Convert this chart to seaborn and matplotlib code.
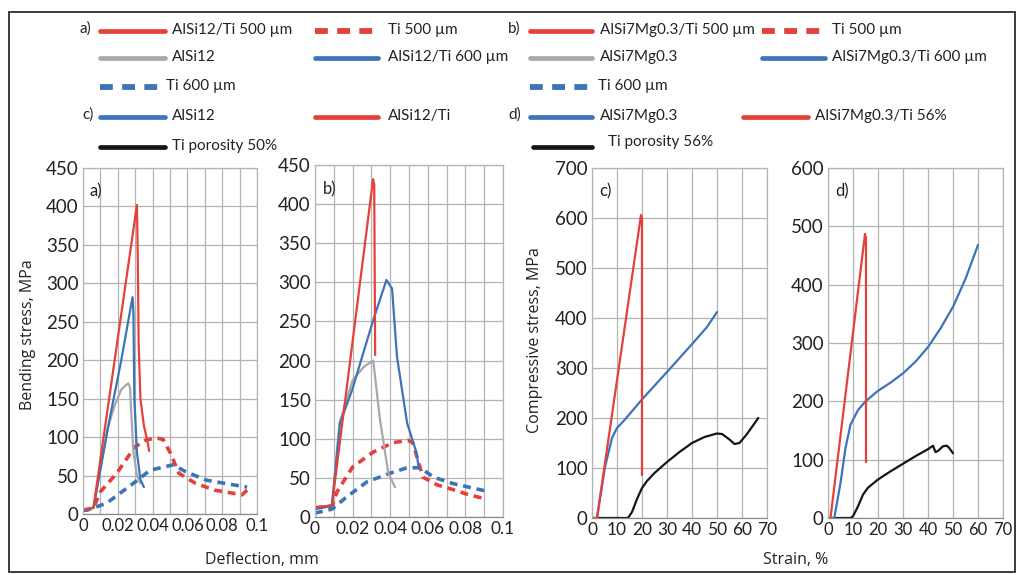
import numpy as np
import pandas as pd
import seaborn as sns
import matplotlib.pyplot as plt
from matplotlib.lines import Line2D
from matplotlib.patches import Rectangle
from matplotlib.ticker import MultipleLocator, FuncFormatter

# --- panel a) bending, AlSi12 (deflection mm / stress MPa)
a_red_x = [0, 0.006, 0.031, 0.0315, 0.032, 0.033, 0.035, 0.037, 0.038]
a_red_y = [5, 8, 402, 330, 220, 150, 115, 95, 82]
a_gray_x = [0, 0.006, 0.014, 0.018, 0.022, 0.026, 0.027, 0.028, 0.029, 0.031, 0.033]
a_gray_y = [5, 8, 110, 140, 162, 170, 165, 120, 80, 50, 40]
a_blue_x = [0, 0.006, 0.015, 0.022, 0.0275, 0.0285, 0.029, 0.0295, 0.031, 0.033, 0.035]
a_blue_y = [5, 8, 120, 200, 270, 282, 260, 150, 80, 45, 35]
a_red_d_x = [0, 0.006, 0.01, 0.0194, 0.0297, 0.036, 0.042, 0.046, 0.0503, 0.0551, 0.0646, 0.0757, 0.0914, 0.0943]
a_red_d_y = [5, 8, 29, 53, 87, 96, 99, 97, 79, 53, 40, 31, 25, 31]
a_blue_d_x = [0, 0.0024, 0.0135, 0.029, 0.0386, 0.0519, 0.059, 0.0709, 0.0862, 0.0943]
a_blue_d_y = [5, 5, 14, 40, 57, 64, 55, 44, 38, 35]

# --- panel b) bending, AlSi7Mg0.3
b_red_x = [0, 0.009, 0.0309, 0.0315, 0.032]
b_red_y = [12, 15, 432, 425, 207]
b_gray_x = [0, 0.009, 0.013, 0.02, 0.026, 0.031, 0.0335, 0.0346, 0.039, 0.0426]
b_gray_y = [11, 15, 120, 175, 192, 200, 146, 124, 56, 38]
b_blue_x = [0, 0.009, 0.0133, 0.0197, 0.031, 0.038, 0.041, 0.0436, 0.049, 0.054, 0.055]
b_blue_y = [10, 14, 120, 162, 252, 303, 292, 205, 120, 82, 66]
b_red_d_x = [0, 0.009, 0.0117, 0.02, 0.031, 0.0415, 0.0495, 0.052, 0.0574, 0.065, 0.0734, 0.0824, 0.0894]
b_red_d_y = [12, 14, 32, 64, 83, 95, 98, 95, 51, 41, 35, 28, 24]
b_blue_d_x = [0, 0.009, 0.017, 0.0277, 0.04, 0.049, 0.056, 0.063, 0.073, 0.084, 0.093]
b_blue_d_y = [5, 10, 26, 45, 56, 63, 63, 51, 43, 37, 32]

# --- panel c) compression, AlSi12 (strain % / stress MPa)
c_red_x = [0, 2, 19.6, 20, 20]
c_red_y = [0, 0, 606, 600, 86]
c_blue_x = [0, 2, 5.2, 8, 10, 13, 20.5, 30, 40.4, 46, 50]
c_blue_y = [0, 0, 102, 160, 180, 196, 240, 292, 350, 382, 412]
c_black_x = [0, 14.4, 16, 18, 20, 22, 25, 30, 35, 40, 45, 50, 52, 55, 57, 59, 62, 66.5]
c_black_y = [0, 0, 12, 38, 60, 74, 90, 112, 132, 150, 162, 169, 168, 157, 148, 150, 168, 200]

# --- panel d) compression, AlSi7Mg0.3
d_red_x = [0, 1, 14.8, 15.2, 15.2]
d_red_y = [0, 0, 487, 480, 96]
d_blue_x = [0, 2.5, 5, 7, 9, 12, 15, 20, 25, 30, 35, 40, 45, 50, 55, 60]
d_blue_y = [0, 0, 60, 120, 160, 185, 200, 218, 232, 248, 268, 293, 325, 362, 410, 468]
d_black_x = [0, 9, 10, 12, 14, 16, 20, 25, 30, 35, 40, 42, 43, 44, 46, 47.5, 48.5, 50]
d_black_y = [0, 0, 3, 20, 40, 52, 66, 80, 93, 106, 118, 124, 113, 115, 123, 124, 120, 111]

RED = "#e4413b"
BLUE = "#3d74b9"
GRAY = "#a8a8a8"
BLACK = "#161616"
DASH = (0, (2.2, 1.6))

sns.set_theme(style="whitegrid")
plt.rcParams["font.family"] = ["Lato", "DejaVu Sans"]

fig = plt.figure(figsize=(10.18, 5.75), dpi=100)


def px_axes(l, t, r, b):
    W, H = 1018, 575
    return fig.add_axes([l / W, 1 - b / H, (r - l) / W, (b - t) / H])


def draw(ax, x, y, color, dashed=False):
    if dashed:
        sns.lineplot(x=x, y=y, ax=ax, color=color, lw=2.6, linestyle=DASH,
                     estimator=None, sort=False)
    else:
        sns.lineplot(x=x, y=y, ax=ax, color=color, lw=1.6,
                     estimator=None, sort=False)


def style(ax, xmax, xmaj, xmin, ymax, ystep, tag, xsize):
    ax.set_xlim(0, xmax)
    ax.set_ylim(0, ymax)
    ax.xaxis.set_major_locator(MultipleLocator(xmaj))
    ax.xaxis.set_minor_locator(MultipleLocator(xmin))
    ax.yaxis.set_major_locator(MultipleLocator(ystep))
    ax.xaxis.set_major_formatter(FuncFormatter(lambda v, p: f"{v:g}"))
    ax.grid(which="both", color="#b4b4b4", lw=0.9)
    ax.set_facecolor("white")
    for s in ax.spines.values():
        s.set_color("#b4b4b4")
        s.set_linewidth(0.9)
    ax.spines["bottom"].set_color("#8c8c8c")
    ax.tick_params(length=0, pad=3, colors="#222222")
    ax.tick_params(axis="y", labelsize=13.5)
    ax.tick_params(axis="x", labelsize=xsize)
    ax.set_xlabel("")
    ax.set_ylabel("")
    ax.text(0.04, 0.955, tag, transform=ax.transAxes, fontsize=12,
            va="top", ha="left", color="#222222")


ax_a = px_axes(83, 168, 257, 514)
draw(ax_a, a_red_d_x, a_red_d_y, RED, True)
draw(ax_a, a_blue_d_x, a_blue_d_y, BLUE, True)
draw(ax_a, a_gray_x, a_gray_y, GRAY)
draw(ax_a, a_blue_x, a_blue_y, BLUE)
draw(ax_a, a_red_x, a_red_y, RED)
style(ax_a, 0.1, 0.02, 0.01, 450, 50, "a)", 12)

ax_b = px_axes(315, 165, 503, 517)
draw(ax_b, b_red_d_x, b_red_d_y, RED, True)
draw(ax_b, b_blue_d_x, b_blue_d_y, BLUE, True)
draw(ax_b, b_gray_x, b_gray_y, GRAY)
draw(ax_b, b_blue_x, b_blue_y, BLUE)
draw(ax_b, b_red_x, b_red_y, RED)
style(ax_b, 0.1, 0.02, 0.01, 450, 50, "b)", 12.5)

ax_c = px_axes(592, 168, 767, 518)
draw(ax_c, c_black_x, c_black_y, BLACK)
draw(ax_c, c_blue_x, c_blue_y, BLUE)
draw(ax_c, c_red_x, c_red_y, RED)
style(ax_c, 70, 10, 10, 700, 100, "c)", 12.5)

ax_d = px_axes(828, 168, 1003, 518)
draw(ax_d, d_black_x, d_black_y, BLACK)
draw(ax_d, d_blue_x, d_blue_y, BLUE)
draw(ax_d, d_red_x, d_red_y, RED)
style(ax_d, 70, 10, 10, 600, 100, "d)", 12)

# axis titles
lab = dict(fontsize=11.5, color="#222222", family=["Open Sans", "DejaVu Sans"])
fig.text(28 / 1018, 1 - 335 / 575, "Bending stress, MPa", rotation=90, ha="center", va="center", **lab)
fig.text(535 / 1018, 1 - 340 / 575, "Compressive stress, MPa", rotation=90, ha="center", va="center", **lab)
fig.text(262 / 1018, 1 - 560 / 575, "Deflection, mm", ha="center", va="center", **lab)
fig.text(796 / 1018, 1 - 560 / 575, "Strain, %", ha="center", va="center", **lab)

# legend block (drawn in pixel positions)
def key(x0, x1, y, color, dashed=False):
    yy = 1 - y / 575
    if dashed:
        ln = Line2D([x0 / 1018, x1 / 1018], [yy, yy], color=color, lw=4.2,
                    linestyle=(0, (2.2, 1.6)), transform=fig.transFigure)
    else:
        ln = Line2D([x0 / 1018, x1 / 1018], [yy, yy], color=color, lw=3.4,
                    transform=fig.transFigure)
    fig.add_artist(ln)


def ltext(x, y, s):
    fig.text(x / 1018, 1 - y / 575, s, fontsize=11, ha="left", va="center", color="#222222")


legend_rows = [
    ("a)", 80, 31, [(100, 165, 172, RED, False, "AlSi12/Ti 500 µm"), (315, 378, 388, RED, True, "Ti 500 µm")]),
    (None, 80, 58, [(100, 165, 172, GRAY, False, "AlSi12"), (315, 378, 388, BLUE, False, "AlSi12/Ti 600 µm")]),
    (None, 80, 87, [(100, 163, 166, BLUE, True, "Ti 600 µm")]),
    ("c)", 82, 117, [(100, 165, 172, BLUE, False, "AlSi12"), (315, 378, 388, RED, False, "AlSi12/Ti")]),
    (None, 80, 147, [(100, 165, 172, BLACK, False, "Ti porosity 50%")]),
    ("b)", 508, 31, [(530, 592, 600, RED, False, "AlSi7Mg0.3/Ti 500 µm"), (762, 825, 832, RED, True, "Ti 500 µm")]),
    (None, 508, 58, [(530, 592, 600, GRAY, False, "AlSi7Mg0.3"), (762, 825, 832, BLUE, False, "AlSi7Mg0.3/Ti 600 µm")]),
    (None, 508, 87, [(530, 592, 598, BLUE, True, "Ti 600 µm")]),
    ("d)", 508, 117, [(530, 592, 600, BLUE, False, "AlSi7Mg0.3"), (743, 808, 815, RED, False, "AlSi7Mg0.3/Ti 56%")]),
    (None, 508, 147, [(533, 592, 608, BLACK, False, "Ti porosity 56%")]),
]
for tag, tx, y, entries in legend_rows:
    if tag:
        ltext(tx, y - 2, tag)
    for x0, x1, xt, col, dsh, name in entries:
        key(x0, x1, y, col, dsh)
        ltext(xt, y - 1 if name != "Ti porosity 56%" else y - 5, name)

# outer frame
fig.add_artist(Rectangle((9 / 1018, 3 / 575), 1006 / 1018, 560 / 575, fill=False,
                         edgecolor="#3a3a3a", lw=1.4, transform=fig.transFigure))

fig.savefig("out.png", dpi=100)
